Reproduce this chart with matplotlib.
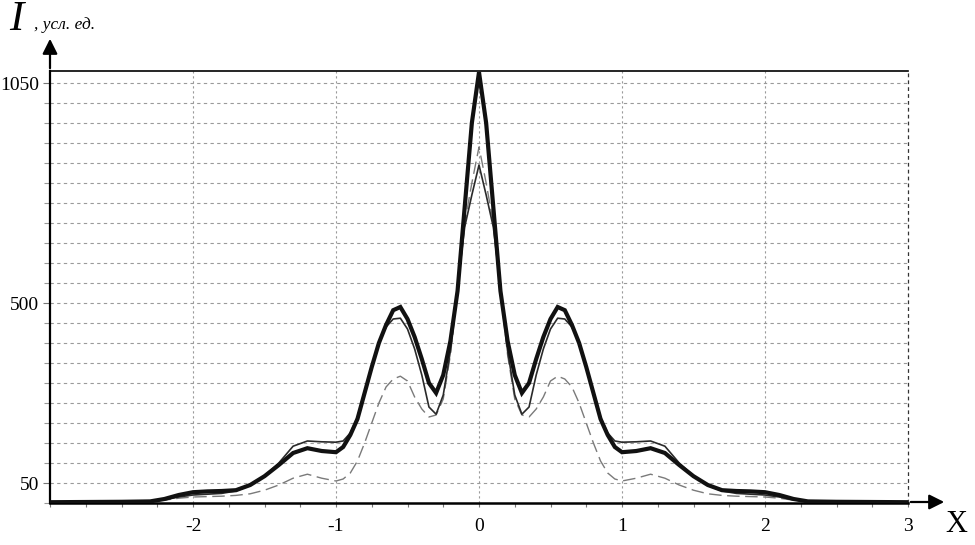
import numpy as np
import matplotlib
matplotlib.use("Agg")
import matplotlib.pyplot as plt
from matplotlib.ticker import FixedLocator, MultipleLocator

plt.rcParams['font.family'] = ['Liberation Serif', 'DejaVu Serif']

# ─── data (curves are symmetric about x = 0) ───
x_half = [0.0, 0.05, 0.1, 0.15, 0.2, 0.25, 0.3, 0.35, 0.4, 0.45, 0.5, 0.55,
          0.6, 0.65, 0.7, 0.75, 0.8, 0.85, 0.9, 0.95, 1.0, 1.1, 1.2, 1.3,
          1.4, 1.5, 1.6, 1.7, 1.8, 1.9, 2.0, 2.1, 2.2, 2.3, 2.5, 3.0]

thick_half = [1077, 950, 740, 530, 405, 320, 275, 300, 360, 415, 460, 490,
              482, 445, 400, 340, 275, 210, 170, 140, 127, 130, 137, 125,
              95, 67, 45, 32, 30, 29, 27, 20, 10, 4, 3, 2]

thin_half = [845, 770, 690, 540, 380, 270, 222, 240, 320, 385, 435, 462,
             460, 440, 400, 340, 280, 215, 175, 155, 152, 153, 155, 142,
             100, 68, 44, 30, 24, 22, 20, 15, 8, 4, 3, 2]

dash_half = [890, 800, 700, 530, 370, 260, 220, 215, 235, 265, 305, 317,
             310, 290, 250, 200, 150, 105, 75, 60, 55, 62, 72, 62,
             45, 32, 23, 19, 17, 16, 15, 12, 7, 4, 3, 2]

y_labels = [50, 500, 1050]
x_labels = [-2, -1, 0, 1, 2, 3]


def mirror(v, sign=1):
    v = np.asarray(v, dtype=float)
    return np.concatenate([sign * v[:0:-1], v])


x = mirror(x_half, -1)
I_thick = mirror(thick_half)
I_thin = mirror(thin_half)
I_dash = mirror(dash_half)

# ─── figure ──────────────────────────────────────────────────────
W, H = 975, 545
fig = plt.figure(figsize=(W / 100, H / 100), dpi=100)
L, R, B, T = 50, 908, 503, 71
ax = fig.add_axes([L / W, 1 - B / H, (R - L) / W, (B - T) / H])
ax.set_xlim(-3, 3)
ax.set_ylim(0, 1080)

# grid
for yv in range(50, 1051, 50):
    ax.axhline(yv, color='#9a9a9a', lw=0.8, dashes=(3, 3), zorder=1)
for xv in [-2, -1, 0, 1, 2]:
    ax.axvline(xv, color='#9a9a9a', lw=0.8, dashes=(2, 2.5), zorder=1)
ax.axvline(3, color='#333333', lw=0.9, dashes=(3, 2.5), zorder=1, clip_on=False)

# curves
ax.plot(x, I_dash, color='#7a7a7a', lw=1.0, dashes=(9, 4), zorder=3)
ax.plot(x, I_thin, color='#2a2a2a', lw=1.2, zorder=4)
ax.plot(x, I_thick, color='#111111', lw=3.0, solid_joinstyle='miter', zorder=5)

# spines
ax.spines['right'].set_visible(False)
ax.spines['top'].set_linewidth(1.2)
ax.spines['left'].set_linewidth(1.6)
ax.spines['bottom'].set_linewidth(1.8)

# ticks
ax.xaxis.set_major_locator(FixedLocator(x_labels))
ax.xaxis.set_minor_locator(MultipleLocator(0.25))
ax.set_xticklabels([str(v) for v in x_labels])
ax.yaxis.set_major_locator(FixedLocator(y_labels))
ax.yaxis.set_minor_locator(MultipleLocator(50))
ax.set_yticklabels([str(v) for v in y_labels])
ax.tick_params(axis='x', which='major', length=3, width=0.8, color='#777777',
               pad=8, labelsize=14)
ax.tick_params(axis='x', which='minor', length=3, width=0.8, color='#777777')
ax.tick_params(axis='y', which='major', length=5, width=0.8, color='#777777',
               pad=3, labelsize=14)
ax.tick_params(axis='y', which='minor', length=4, width=0.8, color='#999999')

# axis arrows (figure pixel coords)
def px(xp, yp):
    return (xp / W, 1 - yp / H)

fig.add_artist(matplotlib.patches.FancyArrowPatch(
    px(L, T), px(L, 36), transform=fig.transFigure,
    arrowstyle='-|>,head_length=6,head_width=3', color='black', lw=1.6,
    mutation_scale=1.5))
fig.add_artist(matplotlib.patches.FancyArrowPatch(
    px(R, B - 1), px(947, B - 1), transform=fig.transFigure,
    arrowstyle='-|>,head_length=6,head_width=3', color='black', lw=1.6,
    mutation_scale=1.5))

# axis titles
fig.text(9 / W, 1 - 30 / H, 'I', fontsize=31, style='italic', va='baseline')
fig.text(34 / W, 1 - 29 / H, ', усл. ед.', fontsize=12.5, style='italic',
         va='baseline')
fig.text(945 / W, 1 - 532 / H, 'X', fontsize=22, va='baseline')

fig.savefig('out.png', dpi=100)
